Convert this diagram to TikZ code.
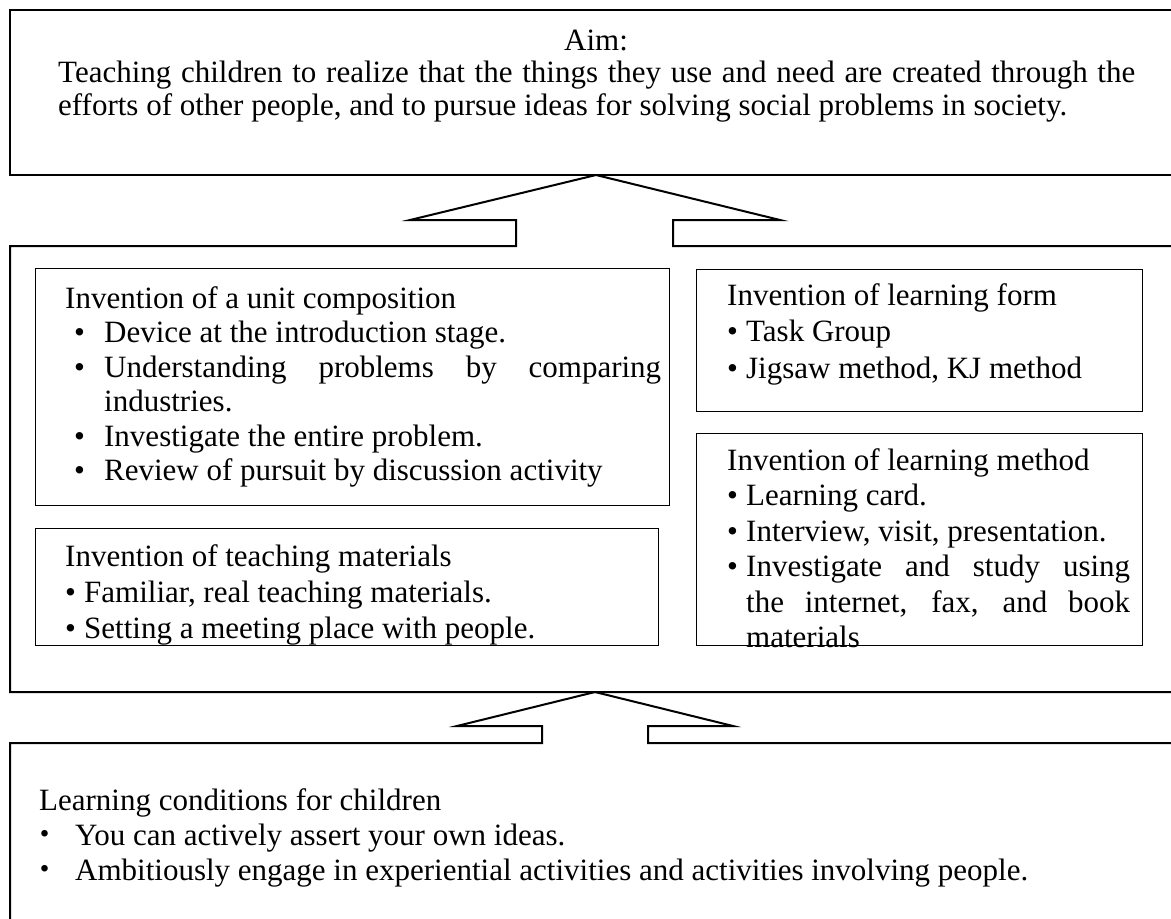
\documentclass[tikz,border=0pt]{standalone}
\usepackage{fontspec}
\setmainfont{Liberation Serif}
\newfontfamily\cjkfont{Noto Sans CJK JP}
\usetikzlibrary{positioning}

\tikzset{
  frame/.style={line width=2pt, line join=miter},
  subbox/.style={draw, line width=1.3pt, inner sep=0pt, anchor=north west},
  body/.style={anchor=north west, inner sep=0pt, align=left, font=\fontsize{31}{35}\selectfont},
}
\newcommand{\lbul}{\hspace*{9pt}\makebox[30pt][l]{\textbullet}}
\newcommand{\lcont}{\hspace*{39pt}}
\newcommand{\sbul}{\makebox[19pt][l]{\textbullet}}
\newcommand{\jbul}{\hspace*{-10pt}\makebox[46pt][l]{\cjkfont ・}}

\begin{document}
\begin{tikzpicture}[x=1pt, y=-1pt]
\useasboundingbox (0,0) rectangle (1171,919);
\fill[white] (0,0) rectangle (1171,919);

% Frames and block arrows
\draw[frame] (1171,10) -- (10,10) -- (10,175) -- (1171,175);
\draw[frame] (1171,246) -- (673,246) -- (673,220) -- (780,220) -- (596,175)
  -- (410,220) -- (516,220) -- (516,246) -- (10,246) -- (10,692) -- (1171,692);
\draw[frame] (1171,743) -- (648,743) -- (648,726) -- (733,726) -- (595,692)
  -- (457,726) -- (542,726) -- (542,743) -- (10,743) -- (10,919);

% Aim
\node[font=\fontsize{31}{35}\selectfont, inner sep=0pt] (aimlabel) at (596,40) {Aim:};
\node[body, font=\fontsize{31}{33}\selectfont] (aimtext) at (58,61)
  {\makebox[1077pt][s]{Teaching children to realize that the things they use and need are created through the}\\
   efforts of other people, and to pursue ideas for solving social problems in society.};

% Boxes
\node[subbox, minimum width=634pt, minimum height=237pt] (unitbox) at (35,268) {};
\node[subbox, minimum width=623pt, minimum height=117pt] (materialbox) at (35,528) {};
\node[subbox, minimum width=446pt, minimum height=142pt] (formbox) at (696,269) {};
\node[subbox, minimum width=446pt, minimum height=212pt] (methodbox) at (696,433) {};

% Texts
\node[body, font=\fontsize{31}{34.5}\selectfont] (unittext) at ([shift={(30,18)}]unitbox.north west)
  {Invention of a unit composition\\
   \lbul Device at the introduction stage.\\
   \lbul \makebox[557pt][s]{Understanding problems by comparing}\\
   \lcont industries.\\
   \lbul Investigate the entire problem.\\
   \lbul Review of pursuit by discussion activity};
\node[body, font=\fontsize{31}{36}\selectfont] (materialtext) at ([shift={(30,16)}]materialbox.north west)
  {Invention of teaching materials\\
   \sbul Familiar, real teaching materials.\\
   \sbul Setting a meeting place with people.};
\node[body, font=\fontsize{31}{36.5}\selectfont] (formtext) at ([shift={(31,14)}]formbox.north west)
  {Invention of learning form\\
   \sbul Task Group\\
   \sbul Jigsaw method, KJ method};
\node[body, font=\fontsize{31}{35.5}\selectfont] (methodtext) at ([shift={(31,15)}]methodbox.north west)
  {Invention of learning method\\
   \sbul Learning card.\\
   \sbul Interview, visit, presentation.\\
   \sbul \makebox[384pt][s]{Investigate and study using}\\
   \hspace*{19pt}\makebox[384pt][s]{the internet, fax, and book}\\
   \hspace*{19pt}materials};

% Learning conditions
\node[body] (condtext) at (39,788)
  {Learning conditions for children\\
   \jbul You can actively assert your own ideas.\\
   \jbul Ambitiously engage in experiential activities and activities involving people.};

\end{tikzpicture}
\end{document}
